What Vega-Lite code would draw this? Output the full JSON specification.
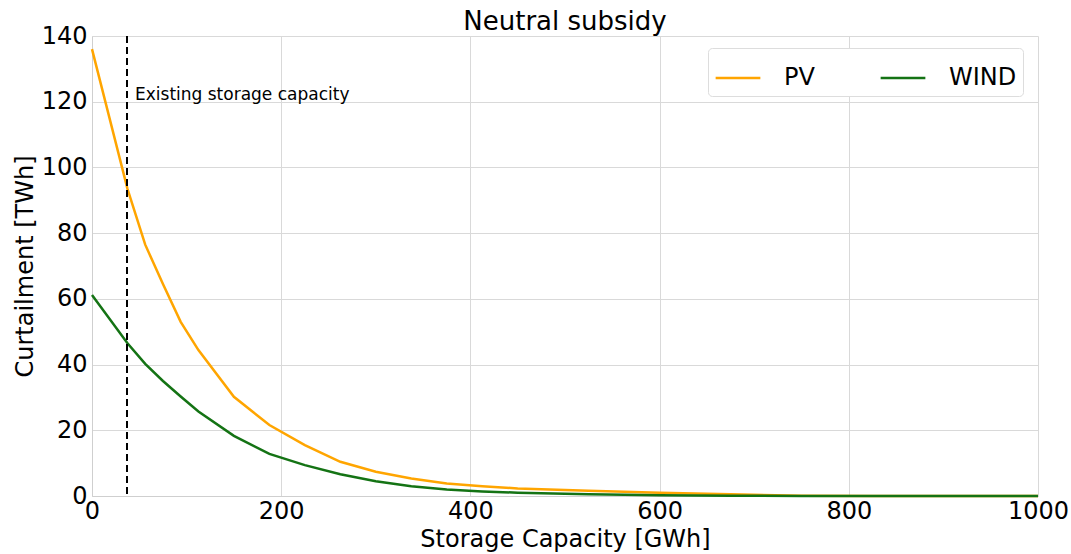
{
  "$schema": "https://vega.github.io/schema/vega-lite/v6.json",
  "width": 946,
  "height": 460,
  "autosize": "none",
  "padding": {"left": 92, "top": 36, "right": 33, "bottom": 58},
  "background": "white",
  "config": {
    "font": "DejaVu Sans",
    "view": {"stroke": null},
    "axis": {"gridColor": "#d9d9d9", "gridWidth": 1, "ticks": false, "labelFontSize": 24, "titleFontSize": 24, "titleFontWeight": "normal", "labelColor": "#000", "titleColor": "#000", "domainColor": "#cfcfcf"}
  },
  "title": {"text": "Neutral subsidy", "fontSize": 26, "fontWeight": "normal", "anchor": "middle", "offset": -11, "color": "#000"},
  "datasets": {
    "curves": [
      {"cap": 0, "val": 136, "tech": "PV"},
      {"cap": 37.5, "val": 93.5, "tech": "PV"},
      {"cap": 56.25, "val": 76.5, "tech": "PV"},
      {"cap": 75, "val": 64.5, "tech": "PV"},
      {"cap": 93.75, "val": 53, "tech": "PV"},
      {"cap": 112.5, "val": 44.4, "tech": "PV"},
      {"cap": 150, "val": 30.2, "tech": "PV"},
      {"cap": 187.5, "val": 21.6, "tech": "PV"},
      {"cap": 225, "val": 15.5, "tech": "PV"},
      {"cap": 262.5, "val": 10.4, "tech": "PV"},
      {"cap": 300, "val": 7.4, "tech": "PV"},
      {"cap": 337.5, "val": 5.3, "tech": "PV"},
      {"cap": 375, "val": 3.8, "tech": "PV"},
      {"cap": 412.5, "val": 3.0, "tech": "PV"},
      {"cap": 450, "val": 2.3, "tech": "PV"},
      {"cap": 525, "val": 1.6, "tech": "PV"},
      {"cap": 600, "val": 1.0, "tech": "PV"},
      {"cap": 675, "val": 0.5, "tech": "PV"},
      {"cap": 750, "val": 0.1, "tech": "PV"},
      {"cap": 825, "val": 0.03, "tech": "PV"},
      {"cap": 900, "val": 0, "tech": "PV"},
      {"cap": 1000, "val": 0, "tech": "PV"},
      {"cap": 0, "val": 61.2, "tech": "WIND"},
      {"cap": 37.5, "val": 46.5, "tech": "WIND"},
      {"cap": 56.25, "val": 40.2, "tech": "WIND"},
      {"cap": 75, "val": 35, "tech": "WIND"},
      {"cap": 93.75, "val": 30.3, "tech": "WIND"},
      {"cap": 112.5, "val": 25.7, "tech": "WIND"},
      {"cap": 150, "val": 18.3, "tech": "WIND"},
      {"cap": 187.5, "val": 12.8, "tech": "WIND"},
      {"cap": 225, "val": 9.4, "tech": "WIND"},
      {"cap": 262.5, "val": 6.6, "tech": "WIND"},
      {"cap": 300, "val": 4.5, "tech": "WIND"},
      {"cap": 337.5, "val": 3.0, "tech": "WIND"},
      {"cap": 375, "val": 2.0, "tech": "WIND"},
      {"cap": 412.5, "val": 1.4, "tech": "WIND"},
      {"cap": 450, "val": 1.0, "tech": "WIND"},
      {"cap": 525, "val": 0.5, "tech": "WIND"},
      {"cap": 600, "val": 0.25, "tech": "WIND"},
      {"cap": 675, "val": 0.1, "tech": "WIND"},
      {"cap": 750, "val": 0.03, "tech": "WIND"},
      {"cap": 825, "val": 0, "tech": "WIND"},
      {"cap": 900, "val": 0, "tech": "WIND"},
      {"cap": 1000, "val": 0, "tech": "WIND"}
    ],
    "marker": [{"cap": 37, "label": "Existing storage capacity", "ty": 122}]
  },
  "layer": [
    {
      "data": {"name": "curves"},
      "mark": {"type": "line", "strokeWidth": 2.5},
      "encoding": {
        "x": {"field": "cap", "type": "quantitative", "scale": {"domain": [0, 1000], "nice": false, "zero": false}, "axis": {"values": [0, 200, 400, 600, 800, 1000], "format": "d", "title": "Storage Capacity [GWh]", "labelPadding": 3, "titlePadding": 4, "labelFlush": false}},
        "y": {"field": "val", "type": "quantitative", "scale": {"domain": [0, 140], "nice": false}, "axis": {"values": [0, 20, 40, 60, 80, 100, 120, 140], "title": "Curtailment [TWh]", "labelPadding": 5, "titlePadding": 4}},
        "color": {"field": "tech", "type": "nominal", "scale": {"domain": ["PV", "WIND"], "range": ["#FFA500", "#147314"]},
          "legend": {"title": null, "orient": "none", "legendX": 616, "legendY": 12, "direction": "horizontal", "columns": 2, "symbolType": "stroke", "symbolSize": 2000, "symbolStrokeWidth": 2.5, "labelFontSize": 24, "labelOffset": 22, "columnPadding": 60, "padding": 6, "strokeColor": "#dddddd", "fillColor": "white", "cornerRadius": 4, "labelColor": "#000"}}
      }
    },
    {
      "data": {"name": "marker"},
      "mark": {"type": "rule", "color": "#000", "strokeWidth": 2, "strokeDash": [7, 4]},
      "encoding": {"x": {"field": "cap", "type": "quantitative"}}
    },
    {
      "data": {"name": "marker"},
      "mark": {"type": "text", "align": "left", "baseline": "middle", "fontSize": 17, "dx": 8, "color": "#000"},
      "encoding": {"x": {"field": "cap", "type": "quantitative"}, "y": {"field": "ty", "type": "quantitative"}, "text": {"field": "label"}}
    },
    {
      "mark": {"type": "rule", "color": "#555", "strokeWidth": 1.5},
      "encoding": {"x": {"datum": 1000}}
    }
  ]
}
